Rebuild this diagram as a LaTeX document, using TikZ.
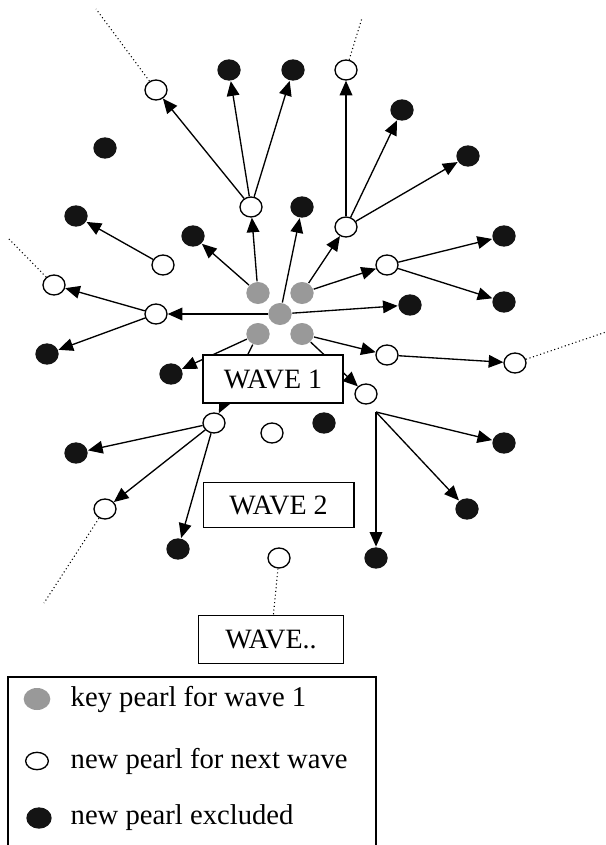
\documentclass[tikz,border=0pt]{standalone}
\usepackage{fontspec}
\setmainfont{Liberation Serif}
\usetikzlibrary{shapes.geometric,arrows.meta}

\begin{document}
\begin{tikzpicture}[x=0.75pt, y=-0.75pt, line width=1pt,
    >={Triangle[length=11pt,width=9.5pt]},
    keypearl/.style={ellipse, fill=gray!80, minimum width=17.5pt, minimum height=16.5pt, inner sep=0pt},
    newpearl/.style={ellipse, draw, fill=white, minimum width=16.5pt, minimum height=15pt, inner sep=0pt},
    expearl/.style={ellipse, fill=black!92, minimum width=17.5pt, minimum height=16pt, inner sep=0pt},
    wavebox/.style={draw, fill=white, minimum width=#1, minimum height=36pt, font=\fontsize{21}{24}\selectfont},
    legtext/.style={anchor=west, inner sep=0pt, font=\fontsize{21.5}{24}\selectfont},
    trail/.style={dotted, line width=0.8pt}]
    \useasboundingbox (0,0) rectangle (606,845);

    \node [keypearl] (K1) at (258,293) {};
    \node [keypearl] (K2) at (302,293) {};
    \node [keypearl] (K0) at (280,314) {};
    \node [keypearl] (K3) at (258,334) {};
    \node [keypearl] (K4) at (302,334) {};

    \node [newpearl] (W1) at (156,90) {};
    \node [newpearl] (W2) at (346,70) {};
    \node [newpearl] (W3) at (251,207) {};
    \node [newpearl] (W4) at (346,227) {};
    \node [newpearl] (W5) at (163,265) {};
    \node [newpearl] (W6) at (387,265) {};
    \node [newpearl] (W7) at (54,285) {};
    \node [newpearl] (W8) at (156,314) {};
    \node [newpearl] (W9) at (387,355) {};
    \node [newpearl] (W10) at (515,363) {};
    \node [newpearl] (W11) at (366,394) {};
    \node [newpearl] (W12) at (214,423) {};
    \node [newpearl] (W13) at (272,433) {};
    \node [newpearl] (W14) at (105,509) {};
    \node [newpearl] (W15) at (279,558) {};

    \node [expearl] (B1) at (229,70) {};
    \node [expearl] (B2) at (293,70) {};
    \node [expearl] (B3) at (402,110) {};
    \node [expearl] (B4) at (105,148) {};
    \node [expearl] (B5) at (468,156) {};
    \node [expearl] (B6) at (302,207) {};
    \node [expearl] (B7) at (76,216) {};
    \node [expearl] (B8) at (193,236) {};
    \node [expearl] (B9) at (504,236) {};
    \node [expearl] (B10) at (504,302) {};
    \node [expearl] (B11) at (410,305) {};
    \node [expearl] (B12) at (47,354) {};
    \node [expearl] (B13) at (171,374) {};
    \node [expearl] (B14) at (324,423) {};
    \node [expearl] (B15) at (504,443) {};
    \node [expearl] (B16) at (76,453) {};
    \node [expearl] (B17) at (467,509) {};
    \node [expearl] (B18) at (178,549) {};
    \node [expearl] (B19) at (376,558) {};

    \coordinate (F11) at (376,412);
    \coordinate (T1) at (96,9);
    \coordinate (T2) at (362,18);
    \coordinate (T7) at (8,238);
    \coordinate (T10) at (606,332);
    \coordinate (T14) at (44,603);

    \draw[->] (W3) -- (W1);
    \draw[->] (W3) -- (B1);
    \draw[->] (W3) -- (B2);
    \draw[->] (K1) -- (W3);
    \draw[->] (K1) -- (B8);
    \draw[->] (K0) -- (B6);
    \draw[->] (K0) -- (W8);
    \draw[->] (K0) -- (B11);
    \draw[->] (K2) -- (W4);
    \draw[->] (K2) -- (W6);
    \draw[->] (W4) -- (W2);
    \draw[->] (W4) -- (B3);
    \draw[->] (W4) -- (B5);
    \draw[->] (W6) -- (B9);
    \draw[->] (W6) -- (B10);
    \draw[->] (W5) -- (B7);
    \draw[->] (W8) -- (W7);
    \draw[->] (W8) -- (B12);
    \draw[->] (K3) -- (B13);
    \draw[->] (K3) -- (W12);
    \draw[->] (K4) -- (W9);
    \draw[->] (K4) -- (W11);
    \draw[->] (W9) -- (W10);
    \draw[->] (F11) -- (B15);
    \draw[->] (F11) -- (B17);
    \draw[->] (F11) -- (B19);
    \draw[->] (W12) -- (B16);
    \draw[->] (W12) -- (W14);
    \draw[->] (W12) -- (B18);

    \draw[trail] (W1) -- (T1);
    \draw[trail] (W2) -- (T2);
    \draw[trail] (W7) -- (T7);
    \draw[trail] (W10) -- (T10);
    \draw[trail] (W14) -- (T14);

    \node [wavebox=105pt] (V1) at (273,379) {WAVE 1};
    \node [wavebox=113pt, minimum height=34pt] (V2) at (278.5,505) {WAVE 2};
    \node [wavebox=109pt] (Vn) at (271,639.5) {WAVE..};
    \draw[trail] (W15) -- (Vn);

    \draw (8,860) -- (8,677) -- (376,677) -- (376,860);
    \node [keypearl, minimum width=20pt] (L1) at (37,699) {};
    \node [newpearl, minimum width=17pt, minimum height=13pt] (L2) at (37,761) {};
    \node [expearl, minimum width=19pt] (L3) at (39,818) {};
    \node [legtext] (LT1) at (70,699) {key pearl for wave 1};
    \node [legtext] (LT2) at (70,761) {new pearl for next wave};
    \node [legtext] (LT3) at (70,818) {new pearl excluded};
  \end{tikzpicture}
\end{document}
